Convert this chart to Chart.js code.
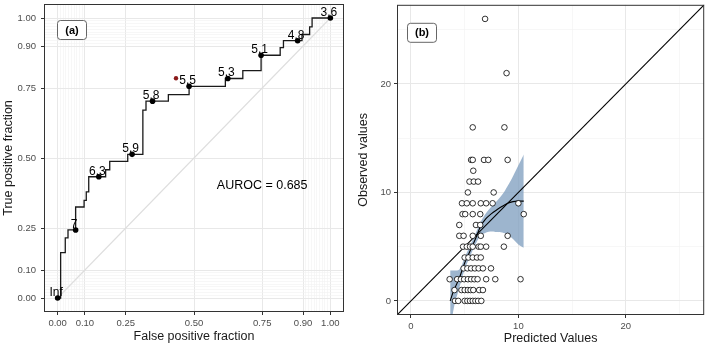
<!DOCTYPE html>
<html>
<head>
<meta charset="utf-8">
<script src="https://cdn.jsdelivr.net/npm/chart.js@4.4.1/dist/chart.umd.min.js"></script>
<style>
html, body { margin: 0; padding: 0; background: #fff; }
#wrapA { position: absolute; left: 0; top: 0; width: 354px; height: 346px; }
#wrapB { position: absolute; left: 354px; top: 0; width: 355px; height: 346px; }
</style>
</head>
<body>
<div id="wrapA"><canvas id="rocChart" width="354" height="346"></canvas></div>
<div id="wrapB"><canvas id="fitChart" width="355" height="346"></canvas></div>
<script>
// ---- panel (a): ROC curve ----
// corners of the empirical ROC staircase (fpf, tpf)
const rocFpf = [0, 0.011, 0.028, 0.038, 0.066, 0.097, 0.105, 0.114, 0.176, 0.191, 0.257, 0.3125, 0.324, 0.406, 0.482, 0.615, 0.679, 0.746, 0.816, 0.828, 0.896, 0.924, 0.933, 1];
const rocTpf = [0, 0.162, 0.215, 0.243, 0.325, 0.349, 0.379, 0.433, 0.458, 0.488, 0.513, 0.671, 0.703, 0.726, 0.756, 0.784, 0.812, 0.867, 0.894, 0.919, 0.941, 0.968, 1, 1];
// labelled cutoffs
const cutLabels = ['Inf', '7', '6.3', '5.9', '5.8', '5.5', '5.3', '5.1', '4.8', '3.6'];
const cutFpf = [0, 0.066, 0.151, 0.273, 0.348, 0.482, 0.624, 0.746, 0.880, 1];
const cutTpf = [0, 0.243, 0.433, 0.513, 0.703, 0.756, 0.784, 0.867, 0.919, 1];
const optimalPoint = [0.434, 0.785];
const aurocText = 'AUROC = 0.685';
const rocMajor = [0, 0.1, 0.25, 0.5, 0.75, 0.9, 1];
const rocMinor = [0.01, 0.02, 0.03, 0.04, 0.05, 0.06, 0.07, 0.08, 0.09, 0.91, 0.92, 0.93, 0.94, 0.95, 0.96, 0.97, 0.98, 0.99];

// ---- panel (b): observed vs predicted ----
const predicted = [
  4.1, 4.4, 5.0, 5.25, 5.5, 5.75, 6.0, 6.25, 6.55,
  4.05, 4.7, 5.0, 5.3, 5.55, 5.8, 6.35, 6.7,
  3.6, 4.3, 4.65, 4.95, 5.3, 5.6, 5.9, 6.2, 7.0, 7.85, 10.2,
  4.9, 5.25, 5.6, 5.95, 6.3, 6.7, 7.45,
  5.0, 5.35, 5.75, 6.15, 6.5,
  4.85, 5.2, 5.5, 5.75, 6.3, 6.5, 7.0, 8.65,
  4.5, 4.9, 5.75, 6.5, 9.0,
  4.5, 6.05, 6.45,
  4.8, 5.05, 5.75, 6.45, 10.5,
  4.75, 5.2, 5.75, 6.5, 7.0, 7.6, 10.0,
  5.3, 7.7,
  5.45, 5.85, 6.25,
  5.8,
  5.6, 5.75, 6.8, 7.2, 9.0,
  5.75, 8.7,
  8.9,
  6.9
];
const observed = [
  0, 0, 0, 0, 0, 0, 0, 0, 0,
  1, 1, 1, 1, 1, 1, 1, 1,
  2, 2, 2, 2, 2, 2, 2, 2, 2, 2, 2,
  3, 3, 3, 3, 3, 3, 3,
  4, 4, 4, 4, 4,
  5, 5, 5, 5, 5, 5, 5, 5,
  6, 6, 6, 6, 6,
  7, 7, 7,
  8, 8, 8, 8, 8,
  9, 9, 9, 9, 9, 9, 9,
  10, 10,
  11, 11, 11,
  12,
  13, 13, 13, 13, 13,
  16, 16,
  21,
  26
];
const smoothX = [3.65, 4.0, 4.5, 5.0, 5.5, 6.0, 6.5, 7.0, 7.5, 8.0, 8.5, 9.0, 9.5, 10.0, 10.5];
const smoothY = [0, 1.0, 2.1, 3.5, 4.6, 5.7, 6.9, 7.6, 8.05, 8.4, 8.72, 9.0, 9.15, 9.2, 9.2];
const bandUpper = [2.8, 2.8, 2.9, 4.0, 5.1, 6.2, 7.3, 8.1, 8.7, 9.2, 9.8, 10.6, 11.5, 12.5, 13.5];
const bandLower = [-3, -0.6, 1.2, 2.9, 4.1, 5.2, 6.0, 6.3, 6.4, 6.35, 6.3, 6.1, 5.7, 5.2, 4.9];
const fitMajor = [0, 10, 20];
const fitMinor = [5, 15, 25];

const FONT = '"Liberation Sans", Arial, Helvetica, sans-serif';
Chart.defaults.font.family = FONT;

function pairs(xs, ys) {
  return xs.map((x, i) => ({ x: x, y: ys[i] }));
}

// grid helper: major + minor breaks like ggplot
function makeAxis(major, minor, min, max, fmt, title, size, pad, titlePad) {
  const all = major.concat(minor).sort((a, b) => a - b);
  return {
    type: 'linear',
    min: min,
    max: max,
    afterBuildTicks: s => { s.ticks = all.map(v => ({ value: v })); },
    afterFit: s => {
      if (s.isHorizontal()) s.height = size; else s.width = size;
      // no label overhang padding, the panel fills its box
      s.paddingTop = 0; s.paddingBottom = 0; s.paddingLeft = 0; s.paddingRight = 0;
    },
    ticks: {
      autoSkip: false,
      maxRotation: 0,
      padding: pad,
      color: '#4d4d4d',
      font: { size: 9.5 },
      callback: v => major.includes(v) ? fmt(v) : ''
    },
    grid: {
      color: ctx => (ctx.tick && major.includes(ctx.tick.value)) ? '#e8e8e8' : '#f2f2f2',
      lineWidth: ctx => (ctx.tick && major.includes(ctx.tick.value)) ? 1 : 0.6,
      tickColor: ctx => (ctx.tick && major.includes(ctx.tick.value)) ? '#333333' : 'rgba(0,0,0,0)',
      tickLength: 3,
      drawTicks: true
    },
    border: { display: false },
    title: { display: true, text: title, color: '#1a1a1a', font: { size: 12.5 }, padding: titlePad }
  };
}

// panel border, tag box and free text
function panelPlugin(tag, tagDx, tagDy, drawExtra) {
  return {
    id: 'panel' + tag,
    afterDatasetsDraw(chart) {
      const ctx = chart.ctx;
      const a = chart.chartArea;
      ctx.save();
      if (drawExtra) drawExtra(chart, ctx);
      ctx.strokeStyle = '#333333';
      ctx.lineWidth = 1;
      ctx.strokeRect(a.left + 0.5, a.top + 0.5, a.right - a.left - 1, a.bottom - a.top - 1);
      // tag box
      const bx = a.left + tagDx, by = a.top + tagDy, bw = 29, bh = 19;
      ctx.beginPath();
      ctx.roundRect(bx + 0.5, by + 0.5, bw, bh, 3);
      ctx.fillStyle = '#ffffff';
      ctx.fill();
      ctx.strokeStyle = '#555555';
      ctx.lineWidth = 0.9;
      ctx.stroke();
      ctx.fillStyle = '#000000';
      ctx.font = 'bold 11px ' + FONT;
      ctx.textAlign = 'center';
      ctx.textBaseline = 'middle';
      ctx.fillText(tag, bx + bw / 2 + 0.5, by + bh / 2 + 1);
      ctx.restore();
    }
  };
}

const rocExtra = (chart, ctx) => {
  const xs = chart.scales.x, ys = chart.scales.y;
  ctx.fillStyle = '#000000';
  ctx.font = '12px ' + FONT;
  ctx.textAlign = 'center';
  ctx.textBaseline = 'alphabetic';
  cutLabels.forEach((lab, i) => {
    ctx.fillText(lab, xs.getPixelForValue(cutFpf[i]) - 1.5, ys.getPixelForValue(cutTpf[i]) - 2);
  });
  ctx.font = '12.5px ' + FONT;
  ctx.textBaseline = 'middle';
  ctx.fillText(aurocText, xs.getPixelForValue(0.75), ys.getPixelForValue(0.40));
};

new Chart(document.getElementById('rocChart'), {
  type: 'scatter',
  data: {
    datasets: [
      {
        data: pairs(cutFpf, cutTpf),
        pointRadius: 2.8, pointBackgroundColor: '#000', pointBorderWidth: 0, showLine: false
      },
      {
        data: [{ x: optimalPoint[0], y: optimalPoint[1] }],
        pointRadius: 2.2, pointBackgroundColor: '#8b1a1a', pointBorderWidth: 0, showLine: false
      },
      {
        data: pairs(rocFpf, rocTpf),
        showLine: true, stepped: 'before', borderColor: '#1a1a1a', borderWidth: 1.3, pointRadius: 0
      },
      {
        data: [{ x: 0, y: 0 }, { x: 1, y: 1 }],
        showLine: true, borderColor: '#dedede', borderWidth: 1.1, pointRadius: 0
      }
    ]
  },
  options: {
    responsive: false,
    animation: false,
    layout: { padding: { top: 1, right: 10, bottom: 0, left: 0 } },
    plugins: { legend: { display: false }, tooltip: { enabled: false } },
    scales: {
      x: makeAxis(rocMajor, rocMinor, -0.05, 1.05, v => v.toFixed(2), 'False positive fraction', 34, 3, { top: 0, bottom: 1.5 }),
      y: makeAxis(rocMajor, rocMinor, -0.05, 1.05, v => v.toFixed(2), 'True positive fraction', 44, 5, { top: 1, bottom: 0 })
    }
  },
  plugins: [panelPlugin('(a)', 13, 16, rocExtra)]
});

new Chart(document.getElementById('fitChart'), {
  type: 'scatter',
  data: {
    datasets: [
      {
        data: pairs(predicted, observed),
        pointRadius: 2.8, pointBackgroundColor: '#fff', pointBorderColor: '#000', pointBorderWidth: 0.8, showLine: false
      },
      {
        data: pairs(smoothX, smoothY),
        showLine: true, borderColor: '#000', borderWidth: 1.1, pointRadius: 0, tension: 0.4
      },
      {
        data: [{ x: -2, y: -2 }, { x: 30, y: 30 }],
        showLine: true, borderColor: '#000', borderWidth: 1.1, pointRadius: 0
      },
      {
        data: pairs(smoothX, bandUpper),
        showLine: true, borderWidth: 0, pointRadius: 0, tension: 0.4,
        fill: '+1', backgroundColor: 'rgba(130,160,192,0.78)'
      },
      {
        data: pairs(smoothX, bandLower),
        showLine: true, borderWidth: 0, pointRadius: 0, tension: 0.4
      }
    ]
  },
  options: {
    responsive: false,
    animation: false,
    layout: { padding: { top: 1, right: 2, bottom: 0, left: 0 } },
    plugins: { legend: { display: false }, tooltip: { enabled: false } },
    scales: {
      x: makeAxis(fitMajor, fitMinor, -1.3, 27.3, v => String(v), 'Predicted Values', 31, 3, { top: 0, bottom: 0 }),
      y: makeAxis(fitMajor, fitMinor, -1.3, 27.3, v => String(v), 'Observed values', 43, 3, { top: 2, bottom: 0 })
    }
  },
  plugins: [panelPlugin('(b)', 10, 18)]
});
</script>
</body>
</html>
